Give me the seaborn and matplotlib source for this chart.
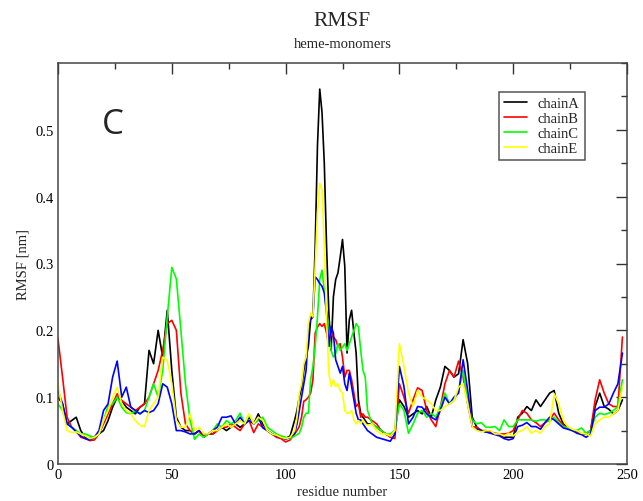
import numpy as np
import pandas as pd
import matplotlib
matplotlib.use("Agg")
import matplotlib.pyplot as plt
from matplotlib.ticker import MultipleLocator
import seaborn as sns

# residue numbers sampled (every 2 residues, every residue in the 104-136 peak region)
residues = list(range(0, 104, 2)) + list(range(104, 137)) + list(range(138, 250, 2))

chainA = [
    0.10, 0.09, 0.06, 0.065, 0.07, 0.05, 0.04, 0.038, 0.04, 0.045, 0.05, 0.065, 0.085,
    0.10, 0.095, 0.085, 0.08, 0.075, 0.085, 0.09, 0.17, 0.15, 0.20, 0.16, 0.23, 0.14,
    0.07, 0.055, 0.05, 0.05, 0.045, 0.05, 0.04, 0.045, 0.045, 0.05, 0.055, 0.05, 0.055,
    0.06, 0.055, 0.06, 0.07, 0.06, 0.075, 0.06, 0.05, 0.045, 0.042, 0.04, 0.038, 0.042,
    # 104-136
    0.066, 0.08, 0.10, 0.114, 0.14, 0.16, 0.176, 0.216, 0.22, 0.326, 0.476, 0.561, 0.526,
    0.45, 0.326, 0.226, 0.17, 0.25, 0.276, 0.286, 0.31, 0.336, 0.296, 0.166, 0.216, 0.23,
    0.196, 0.166, 0.096, 0.076, 0.07, 0.065, 0.06,
    # 138-248
    0.06, 0.055, 0.05, 0.045, 0.042, 0.05, 0.096, 0.086, 0.07, 0.075, 0.08, 0.075, 0.086,
    0.07, 0.096, 0.115, 0.146, 0.14, 0.13, 0.135, 0.186, 0.15, 0.07, 0.055, 0.05, 0.048,
    0.048, 0.045, 0.044, 0.04, 0.04, 0.04, 0.07, 0.076, 0.086, 0.08, 0.096, 0.086, 0.096,
    0.106, 0.11, 0.076, 0.06, 0.054, 0.05, 0.05, 0.045, 0.045, 0.05, 0.086, 0.106, 0.086,
    0.082, 0.075, 0.08, 0.096,
]

chainB = [
    0.187, 0.13, 0.07, 0.055, 0.05, 0.04, 0.038, 0.035, 0.036, 0.045, 0.06, 0.075, 0.09,
    0.105, 0.095, 0.09, 0.085, 0.08, 0.085, 0.09, 0.10, 0.12, 0.14, 0.17, 0.21, 0.215,
    0.20, 0.106, 0.06, 0.05, 0.045, 0.05, 0.042, 0.045, 0.045, 0.05, 0.055, 0.055, 0.06,
    0.055, 0.05, 0.06, 0.065, 0.047, 0.06, 0.055, 0.05, 0.045, 0.04, 0.038, 0.033, 0.036,
    # 104-136
    0.045, 0.05, 0.056, 0.07, 0.094, 0.096, 0.10, 0.106, 0.126, 0.196, 0.205, 0.21, 0.206,
    0.21, 0.196, 0.176, 0.196, 0.19, 0.186, 0.176, 0.18, 0.16, 0.13, 0.14, 0.14, 0.126,
    0.106, 0.086, 0.09, 0.07, 0.075, 0.07, 0.07,
    # 138-248
    0.065, 0.06, 0.05, 0.045, 0.04, 0.038, 0.12, 0.10, 0.076, 0.096, 0.114, 0.11, 0.08,
    0.066, 0.056, 0.085, 0.12, 0.14, 0.13, 0.154, 0.13, 0.09, 0.056, 0.055, 0.05, 0.05,
    0.048, 0.046, 0.045, 0.045, 0.046, 0.05, 0.066, 0.08, 0.076, 0.066, 0.062, 0.056, 0.062,
    0.066, 0.076, 0.066, 0.058, 0.054, 0.05, 0.048, 0.045, 0.046, 0.05, 0.096, 0.126, 0.106,
    0.09, 0.086, 0.086, 0.19,
]

chainC = [
    0.09, 0.08, 0.06, 0.055, 0.05, 0.045, 0.045, 0.042, 0.04, 0.045, 0.065, 0.087, 0.09,
    0.10, 0.085, 0.077, 0.075, 0.08, 0.075, 0.08, 0.10, 0.12, 0.10, 0.14, 0.22, 0.294,
    0.277, 0.20, 0.12, 0.066, 0.037, 0.045, 0.04, 0.045, 0.05, 0.06, 0.055, 0.065, 0.06,
    0.065, 0.076, 0.06, 0.074, 0.06, 0.065, 0.07, 0.055, 0.05, 0.045, 0.042, 0.04, 0.038,
    # 104-136
    0.042, 0.044, 0.046, 0.055, 0.07, 0.076, 0.076, 0.126, 0.146, 0.176, 0.22, 0.276, 0.29,
    0.26, 0.226, 0.20, 0.17, 0.16, 0.165, 0.18, 0.17, 0.175, 0.18, 0.17, 0.18, 0.19,
    0.20, 0.21, 0.205, 0.17, 0.14, 0.13, 0.08,
    # 138-248
    0.06, 0.055, 0.05, 0.045, 0.045, 0.05, 0.09, 0.08, 0.046, 0.06, 0.076, 0.08, 0.07,
    0.076, 0.07, 0.086, 0.106, 0.09, 0.095, 0.11, 0.14, 0.09, 0.066, 0.06, 0.062, 0.055,
    0.055, 0.056, 0.05, 0.066, 0.056, 0.056, 0.066, 0.066, 0.066, 0.066, 0.064, 0.066, 0.066,
    0.064, 0.07, 0.062, 0.056, 0.054, 0.05, 0.05, 0.054, 0.046, 0.05, 0.07, 0.076, 0.074,
    0.076, 0.08, 0.086, 0.126,
]

chainD = [
    0.11, 0.09, 0.06, 0.055, 0.048, 0.042, 0.038, 0.036, 0.04, 0.05, 0.08, 0.09, 0.13,
    0.154, 0.10, 0.115, 0.085, 0.08, 0.075, 0.08, 0.077, 0.08, 0.09, 0.12, 0.115, 0.09,
    0.05, 0.05, 0.048, 0.045, 0.045, 0.05, 0.045, 0.045, 0.05, 0.055, 0.07, 0.07, 0.072,
    0.06, 0.07, 0.06, 0.065, 0.06, 0.07, 0.054, 0.05, 0.045, 0.042, 0.04, 0.037, 0.04,
    # 104-136
    0.046, 0.06, 0.08, 0.10, 0.12, 0.14, 0.196, 0.22, 0.22, 0.28, 0.276, 0.27, 0.266,
    0.256, 0.226, 0.176, 0.206, 0.196, 0.156, 0.146, 0.136, 0.146, 0.12, 0.11, 0.136, 0.116,
    0.096, 0.076, 0.066, 0.066, 0.06, 0.055, 0.05,
    # 138-248
    0.045, 0.04, 0.038, 0.036, 0.034, 0.045, 0.146, 0.116, 0.06, 0.07, 0.086, 0.085, 0.075,
    0.07, 0.066, 0.08, 0.10, 0.09, 0.10, 0.106, 0.156, 0.11, 0.056, 0.052, 0.05, 0.048,
    0.046, 0.044, 0.042, 0.038, 0.036, 0.038, 0.056, 0.058, 0.062, 0.056, 0.056, 0.052, 0.062,
    0.07, 0.066, 0.06, 0.054, 0.052, 0.05, 0.046, 0.044, 0.04, 0.045, 0.08, 0.085, 0.085,
    0.09, 0.106, 0.12, 0.166,
]

chainE = [
    0.12, 0.08, 0.05, 0.047, 0.048, 0.045, 0.042, 0.038, 0.04, 0.045, 0.065, 0.08, 0.10,
    0.115, 0.09, 0.08, 0.075, 0.065, 0.058, 0.056, 0.08, 0.09, 0.10, 0.16, 0.155, 0.12,
    0.065, 0.055, 0.055, 0.075, 0.05, 0.055, 0.045, 0.045, 0.05, 0.05, 0.055, 0.06, 0.055,
    0.06, 0.065, 0.06, 0.075, 0.06, 0.07, 0.065, 0.05, 0.045, 0.043, 0.04, 0.038, 0.04,
    # 104-136
    0.05, 0.07, 0.106, 0.12, 0.15, 0.16, 0.21, 0.226, 0.22, 0.296, 0.376, 0.42, 0.41,
    0.326, 0.216, 0.136, 0.116, 0.126, 0.116, 0.12, 0.11, 0.106, 0.08, 0.076, 0.076, 0.08,
    0.066, 0.06, 0.065, 0.06, 0.066, 0.06, 0.058,
    # 138-248
    0.06, 0.05, 0.045, 0.045, 0.042, 0.05, 0.18, 0.146, 0.106, 0.086, 0.11, 0.10, 0.096,
    0.09, 0.08, 0.08, 0.086, 0.09, 0.095, 0.115, 0.12, 0.09, 0.056, 0.05, 0.048, 0.05,
    0.05, 0.045, 0.045, 0.042, 0.046, 0.042, 0.048, 0.05, 0.056, 0.046, 0.05, 0.046, 0.056,
    0.06, 0.105, 0.09, 0.066, 0.056, 0.052, 0.05, 0.046, 0.045, 0.042, 0.06, 0.066, 0.07,
    0.07, 0.075, 0.08, 0.116,
]

chain_names = ["chainA", "chainB", "chainC", "chainD", "chainE"]
chain_colors = ["#000000", "#ff0000", "#00ff00", "#0000ff", "#ffff00"]
legend_names = ["chainA", "chainB", "chainC", "chainE"]

x_ticks = [0, 50, 100, 150, 200, 250]
y_ticks = [0, 0.1, 0.2, 0.3, 0.4, 0.5]
y_tick_labels = ["0", "0.1", "0.2", "0.3", "0.4", "0.5"]

df = pd.concat([
    pd.DataFrame({"residue": residues, "rmsf": vals, "chain": name})
    for name, vals in zip(chain_names, [chainA, chainB, chainC, chainD, chainE])
])

sns.set_style("white")
plt.rcParams["font.family"] = ["Liberation Serif", "DejaVu Serif"]

W, H = 643, 502
fig = plt.figure(figsize=(W / 100, H / 100), dpi=100)
L, R, T, B = 58, 627, 64, 465
ax = fig.add_axes([L / W, 1 - B / H, (R - L) / W, (B - T) / H])

sns.lineplot(data=df, x="residue", y="rmsf", hue="chain", hue_order=chain_names,
             palette=dict(zip(chain_names, chain_colors)), sort=False, estimator=None,
             linewidth=1.2, ax=ax, legend=False)

ax.set_xlim(0, 250)
ax.set_ylim(0, 0.6)
ax.set_xticks(x_ticks)
ax.set_yticks(y_ticks)
ax.set_yticklabels(y_tick_labels)
ax.xaxis.set_minor_locator(MultipleLocator(25))
ax.yaxis.set_minor_locator(MultipleLocator(0.05))
ax.tick_params(which="both", direction="in", top=True, right=True, colors="#333333",
               labelcolor="black", labelsize=10.5, width=1)
ax.tick_params(which="major", length=8, pad=3)
ax.tick_params(which="minor", length=4)
for s in ax.spines.values():
    s.set_color("#444444")
    s.set_linewidth(1.1)

ax.set_xlabel("residue number", fontsize=10.5, labelpad=3)
ax.set_ylabel("RMSF [nm]", fontsize=10.5, labelpad=4)

cx = (L + R) / 2 / W
fig.text(cx, 1 - 21 / H, "RMSF", ha="center", va="center", fontsize=15.5)
fig.text(cx, 1 - 45 / H, "heme-monomers", ha="center", va="center", fontsize=10.5)
ax.text((113 - L) / (R - L), (B - 125) / (B - T), "C", transform=ax.transAxes,
        ha="center", va="center", fontsize=25, family=["Open Sans", "DejaVu Sans"])

lines = ax.get_lines()
handles = [lines[chain_names.index(n)] for n in legend_names]
leg = ax.legend(handles, legend_names, loc="upper left",
                bbox_to_anchor=((499 - L) / (R - L), (B - 93) / (B - T)),
                borderaxespad=0, fancybox=False, framealpha=1, edgecolor="#555555",
                fontsize=10.5, handlelength=1.6, handletextpad=0.7, labelspacing=0.12,
                borderpad=0.35)
leg.get_frame().set_linewidth(1.1)

fig.savefig("out.png", dpi=100)
